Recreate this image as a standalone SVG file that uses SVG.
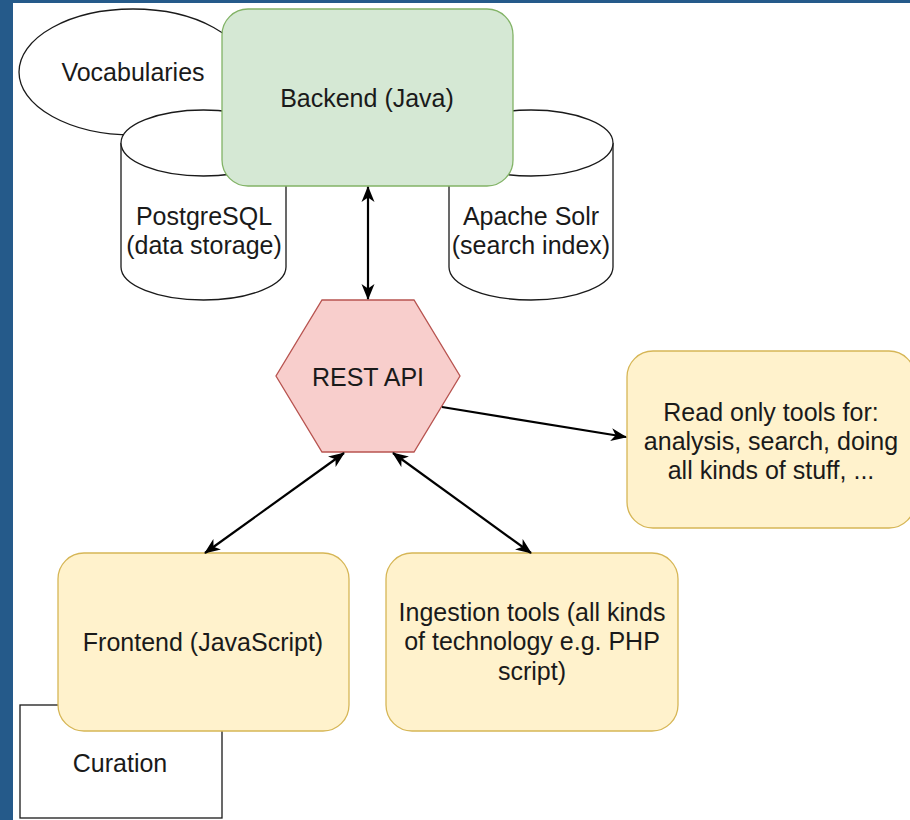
<svg xmlns="http://www.w3.org/2000/svg" width="910" height="820" viewBox="0 0 910 820">
<style>
text{font-family:"Liberation Sans",Arial,sans-serif;font-size:25px;fill:#1a1a1a;text-anchor:middle}
.shape{fill:#fff;stroke:#1a1a1a;stroke-width:1.3}
.green{fill:#d5e8d4;stroke:#82b366;stroke-width:1.3}
.yellow{fill:#fff2cc;stroke:#d6b656;stroke-width:1.3}
.red{fill:#f8cecc;stroke:#b85450;stroke-width:1.3}
.edge{fill:none;stroke:#000;stroke-width:2.2}
</style>
<defs>
<marker id="arr" markerUnits="userSpaceOnUse" markerWidth="18" markerHeight="14" refX="15" refY="7" orient="auto-start-reverse" viewBox="0 0 18 14">
<path d="M0,0.5 L16,7 L0,13.5 L4.5,7 Z" fill="#000"/>
</marker>
</defs>
<rect x="0" y="0" width="910" height="820" fill="#fff"/>
<rect x="0" y="0" width="910" height="3" fill="#255a8a"/>
<rect x="0" y="0" width="13" height="820" fill="#255a8a"/>

<g id="vocabularies">
<ellipse class="shape" cx="133" cy="72" rx="114" ry="63"/>
<text x="133" y="81">Vocabularies</text>
</g>
<g id="postgresql">
<path class="shape" d="M121,143 A82.5,33 0 0 1 286,143 L286,267 A82.5,33 0 0 1 121,267 Z"/>
<path class="shape" fill="none" d="M121,143 A82.5,33 0 0 0 286,143"/>
<text x="204" y="225">PostgreSQL</text>
<text x="204" y="254">(data storage)</text>
</g>
<g id="solr">
<path class="shape" d="M449,143 A82,33 0 0 1 613,143 L613,267 A82,33 0 0 1 449,267 Z"/>
<path class="shape" fill="none" d="M449,143 A82,33 0 0 0 613,143"/>
<text x="531" y="225">Apache Solr</text>
<text x="531" y="254">(search index)</text>
</g>
<g id="backend">
<rect class="green" x="222" y="9" width="291" height="177" rx="26"/>
<text x="367" y="107">Backend (Java)</text>
</g>
<g id="rest-api">
<polygon class="red" points="322,300 414,300 460,376 414,452 322,452 276,376"/>
<text x="368" y="386">REST API</text>
</g>
<g id="read-only">
<rect class="yellow" x="627" y="351" width="288" height="177" rx="26"/>
<text x="771" y="421">Read only tools for:</text>
<text x="771" y="450">analysis, search, doing</text>
<text x="771" y="479">all kinds of stuff, ...</text>
</g>
<g id="curation">
<rect class="shape" x="20" y="705" width="202" height="113"/>
<text x="120" y="772">Curation</text>
</g>
<g id="frontend">
<rect class="yellow" x="58" y="553" width="291" height="178" rx="26"/>
<text x="203" y="651">Frontend (JavaScript)</text>
</g>
<g id="ingestion">
<rect class="yellow" x="386" y="553" width="292" height="178" rx="26"/>
<text x="532" y="621">Ingestion tools (all kinds</text>
<text x="532" y="650">of technology e.g. PHP</text>
<text x="532" y="680">script)</text>
</g>
<g id="connectors">
<line class="edge" x1="368" y1="187" x2="368" y2="299" marker-start="url(#arr)" marker-end="url(#arr)"/>
<line class="edge" x1="442" y1="407" x2="626" y2="437" marker-end="url(#arr)"/>
<line class="edge" x1="344" y1="453" x2="205" y2="553" marker-start="url(#arr)" marker-end="url(#arr)"/>
<line class="edge" x1="393" y1="453" x2="531" y2="553" marker-start="url(#arr)" marker-end="url(#arr)"/>
</g>
</svg>
